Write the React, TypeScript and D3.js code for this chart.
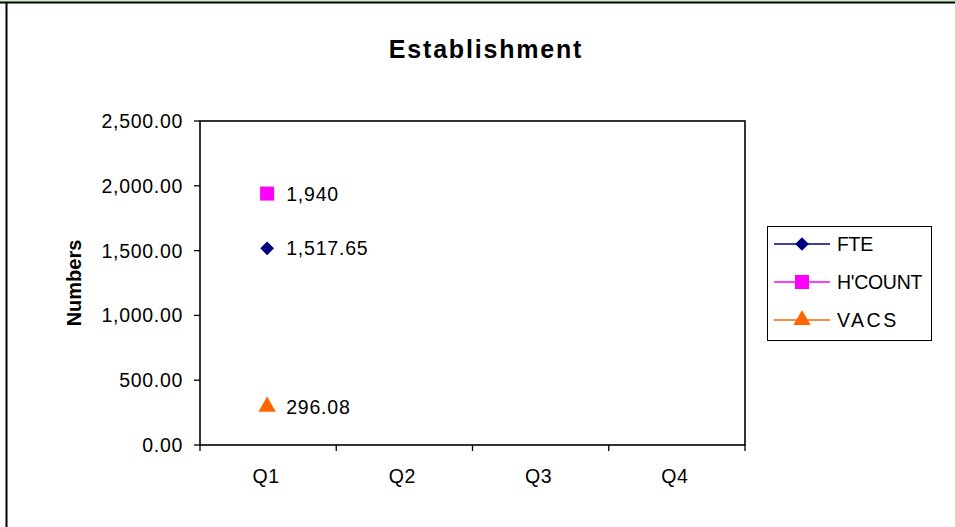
import React from "react";
import * as d3 from "d3";

const categories = ["Q1", "Q2", "Q3", "Q4"];
const seriesNames = ["FTE", "H'COUNT", "VACS"];
const fteValues: (number | null)[] = [1517.65, null, null, null];
const hcountValues: (number | null)[] = [1940, null, null, null];
const vacsValues: (number | null)[] = [296.08, null, null, null];
const dataLabels = [["1,517.65"], ["1,940"], ["296.08"]];
const yTicks = [0, 500, 1000, 1500, 2000, 2500];

const colors = ["#000080", "#ff00ff", "#ff6600"];
const symbols = [d3.symbolDiamond2, d3.symbolSquare, d3.symbolTriangle];
const symSizes = [120, 196, 130];

export default function App() {
  const W = 955, H = 527;
  const left = 200, right = 745, top = 121, bottom = 445;
  const x = d3.scaleBand().domain(categories).range([left, right]);
  const y = d3.scaleLinear().domain([0, 2500]).range([bottom, top]);
  const fmt = d3.format(",.2f");
  const allSeries = [fteValues, hcountValues, vacsValues];
  const font = "'Liberation Sans', Arial, sans-serif";
  const fs = 19.5;

  const sym = (i: number) => d3.symbol().type(symbols[i]).size(symSizes[i])() as string;

  return (
    <svg width={W} height={H} style={{ position: "absolute", left: 0, top: 0, background: "#fff" }} fontFamily={font}>
      <rect x={0} y={0} width={W} height={H} fill="#fff" />
      <line x1={0} x2={W} y1={0.5} y2={0.5} stroke="#c6f5c6" strokeWidth={2} />
      <line x1={0} x2={W} y1={2.5} y2={2.5} stroke="#000" strokeWidth={2} />
      <line x1={6.5} x2={6.5} y1={2} y2={H} stroke="#000" strokeWidth={2} />

      <text x={486} y={58} textAnchor="middle" fontSize={25} fontWeight="bold" letterSpacing={1.8}>Establishment</text>

      <text transform={`translate(81,${(top + bottom) / 2}) rotate(-90)`} textAnchor="middle" fontSize={20} fontWeight="bold">Numbers</text>

      <rect x={left} y={top} width={right - left} height={bottom - top} fill="none" stroke="#000" strokeWidth={1.6} />

      {yTicks.map((t) => (
        <g key={t}>
          <line x1={left - 6} x2={left} y1={y(t)} y2={y(t)} stroke="#000" strokeWidth={1.3} />
          <text x={183} y={y(t) + 7} textAnchor="end" fontSize={fs} letterSpacing={0.7}>{fmt(t)}</text>
        </g>
      ))}

      {[...categories.map((c) => x(c)!), right].map((px, i) => (
        <line key={i} x1={px} x2={px} y1={bottom} y2={bottom + 6} stroke="#000" strokeWidth={1.3} />
      ))}
      {categories.map((c) => (
        <text key={c} x={x(c)! + x.bandwidth() / 2 - 2} y={483} textAnchor="middle" fontSize={fs} letterSpacing={0.5}>{c}</text>
      ))}

      {allSeries.map((vals, si) =>
        vals.map((v, ci) =>
          v == null ? null : (
            <g key={`${si}-${ci}`}>
              <path d={sym(si)} transform={`translate(${x(categories[ci])! + x.bandwidth() / 2 - 1},${y(v)})`} fill={colors[si]} />
              <text x={x(categories[ci])! + x.bandwidth() / 2 + 18} y={y(v) + 7} fontSize={fs} letterSpacing={0.8}>{dataLabels[si][ci]}</text>
            </g>
          )
        )
      )}

      <rect x={767.5} y={226.5} width={164} height={114} fill="#fff" stroke="#000" strokeWidth={1} />
      {seriesNames.map((n, i) => {
        const ly = 244 + i * 38;
        return (
          <g key={n}>
            <line x1={774} x2={830} y1={ly} y2={ly} stroke={colors[i]} strokeWidth={1.5} />
            <path d={sym(i)} transform={`translate(802,${ly})`} fill={colors[i]} />
            <text x={837} y={ly + 7} fontSize={fs} letterSpacing={i === 2 ? 2.5 : -0.3}>{n}</text>
          </g>
        );
      })}
    </svg>
  );
}
